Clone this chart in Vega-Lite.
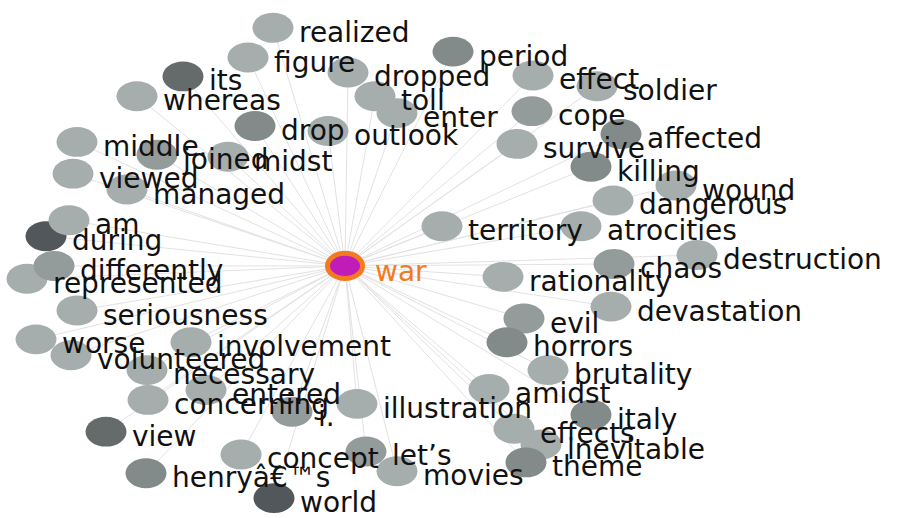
{
  "$schema": "https://vega.github.io/schema/vega-lite/v6.json",
  "width": 903,
  "height": 518,
  "autosize": {"type": "fit", "contains": "padding"},
  "padding": 0,
  "background": "white",
  "config": {"view": {"stroke": null}},
  "data": {
    "values": [
      {"name": "war", "x": 345, "y": 268, "s": 0, "hub": true},
      {"name": "realized", "x": 273, "y": 28, "s": 1, "hub": false},
      {"name": "figure", "x": 248, "y": 58, "s": 1, "hub": false},
      {"name": "its", "x": 183, "y": 77, "s": 4, "hub": false},
      {"name": "whereas", "x": 137, "y": 97, "s": 1, "hub": false},
      {"name": "period", "x": 453, "y": 52, "s": 3, "hub": false},
      {"name": "dropped", "x": 348, "y": 73, "s": 1, "hub": false},
      {"name": "toll", "x": 375, "y": 97, "s": 1, "hub": false},
      {"name": "enter", "x": 397, "y": 114, "s": 1, "hub": false},
      {"name": "drop", "x": 255, "y": 127, "s": 3, "hub": false},
      {"name": "outlook", "x": 328, "y": 132, "s": 1, "hub": false},
      {"name": "effect", "x": 533, "y": 76, "s": 1, "hub": false},
      {"name": "soldier", "x": 597, "y": 87, "s": 1, "hub": false},
      {"name": "cope", "x": 532, "y": 112, "s": 2, "hub": false},
      {"name": "survive", "x": 517, "y": 145, "s": 1, "hub": false},
      {"name": "affected", "x": 621, "y": 135, "s": 3, "hub": false},
      {"name": "killing", "x": 591, "y": 168, "s": 3, "hub": false},
      {"name": "wound", "x": 676, "y": 187, "s": 1, "hub": false},
      {"name": "dangerous", "x": 613, "y": 202, "s": 1, "hub": false},
      {"name": "territory", "x": 442, "y": 228, "s": 1, "hub": false},
      {"name": "atrocities", "x": 581, "y": 228, "s": 1, "hub": false},
      {"name": "destruction", "x": 697, "y": 257, "s": 1, "hub": false},
      {"name": "chaos", "x": 614, "y": 266, "s": 2, "hub": false},
      {"name": "rationality", "x": 503, "y": 279, "s": 1, "hub": false},
      {"name": "devastation", "x": 611, "y": 309, "s": 1, "hub": false},
      {"name": "evil", "x": 524, "y": 321, "s": 2, "hub": false},
      {"name": "horrors", "x": 507, "y": 345, "s": 3, "hub": false},
      {"name": "brutality", "x": 548, "y": 373, "s": 1, "hub": false},
      {"name": "amidst", "x": 489, "y": 392, "s": 1, "hub": false},
      {"name": "italy", "x": 591, "y": 418, "s": 3, "hub": false},
      {"name": "illustration", "x": 357, "y": 407, "s": 1, "hub": false},
      {"name": "effects", "x": 514, "y": 432, "s": 1, "hub": false},
      {"name": "inevitable", "x": 541, "y": 448, "s": 1, "hub": false},
      {"name": "theme", "x": 526, "y": 466, "s": 3, "hub": false},
      {"name": "movies", "x": 397, "y": 475, "s": 1, "hub": false},
      {"name": "let’s", "x": 366, "y": 455, "s": 2, "hub": false},
      {"name": "concept", "x": 241, "y": 458, "s": 1, "hub": false},
      {"name": "henryâ€™s", "x": 146, "y": 477, "s": 3, "hub": false},
      {"name": "world", "x": 274, "y": 502, "s": 5, "hub": false},
      {"name": "view", "x": 106, "y": 435, "s": 4, "hub": false},
      {"name": "concerning", "x": 148, "y": 403, "s": 1, "hub": false},
      {"name": "i.", "x": 292, "y": 415, "s": 2, "hub": false},
      {"name": "entered", "x": 206, "y": 393, "s": 1, "hub": false},
      {"name": "necessary", "x": 147, "y": 373, "s": 1, "hub": false},
      {"name": "involvement", "x": 191, "y": 345, "s": 1, "hub": false},
      {"name": "volunteered", "x": 71, "y": 358, "s": 1, "hub": false},
      {"name": "worse", "x": 36, "y": 342, "s": 1, "hub": false},
      {"name": "seriousness", "x": 77, "y": 313, "s": 1, "hub": false},
      {"name": "represented", "x": 27, "y": 281, "s": 1, "hub": false},
      {"name": "differently", "x": 54, "y": 268, "s": 2, "hub": false},
      {"name": "during", "x": 46, "y": 238, "s": 5, "hub": false},
      {"name": "am", "x": 69, "y": 222, "s": 1, "hub": false},
      {"name": "viewed", "x": 73, "y": 175, "s": 1, "hub": false},
      {"name": "managed", "x": 127, "y": 191, "s": 1, "hub": false},
      {"name": "middle.", "x": 77, "y": 143, "s": 1, "hub": false},
      {"name": "joined", "x": 157, "y": 156, "s": 2, "hub": false},
      {"name": "midst", "x": 228, "y": 158, "s": 1, "hub": false}
    ]
  },
  "encoding": {
    "x": {"field": "x", "type": "quantitative", "scale": {"domain": [0, 903], "nice": false, "zero": false}, "axis": null},
    "y": {"field": "y", "type": "quantitative", "scale": {"domain": [0, 518], "reverse": true, "nice": false, "zero": false}, "axis": null}
  },
  "layer": [
    {
      "transform": [{"filter": "!datum.hub"}],
      "mark": {"type": "rule", "color": "#e2e2e2", "strokeWidth": 1},
      "encoding": {"x2": {"datum": 345}, "y2": {"datum": 268}}
    },
    {
      "transform": [{"filter": "!datum.hub"}],
      "mark": {"type": "point", "filled": true, "opacity": 1, "size": 1681, "shape": "M -1 0 A 1 0.73 0 1 0 1 0 A 1 0.73 0 1 0 -1 0 Z"},
      "encoding": {
        "color": {"field": "s", "type": "ordinal", "legend": null,
          "scale": {"domain": [1, 2, 3, 4, 5], "range": ["#a6adad", "#949b9b", "#838a8a", "#656b6b", "#51575a"]}}
      }
    },
    {
      "transform": [{"filter": "!datum.hub"}],
      "mark": {"type": "text", "align": "left", "baseline": "alphabetic", "dx": 26, "dy": 14, "font": "DejaVu Sans", "fontSize": 28, "color": "#111111"},
      "encoding": {"text": {"field": "name"}}
    },
    {
      "transform": [{"filter": "datum.hub"}],
      "mark": {"type": "point", "filled": true, "opacity": 1, "fill": "#c21cb8", "stroke": "#f47a1f", "strokeWidth": 5, "strokeOpacity": 1, "size": 1225, "shape": "M -1 0 A 1 0.72 0 1 0 1 0 A 1 0.72 0 1 0 -1 0 Z"}
    },
    {
      "transform": [{"filter": "datum.hub"}],
      "mark": {"type": "text", "align": "left", "baseline": "alphabetic", "dx": 30, "dy": 15, "font": "DejaVu Sans", "fontSize": 28, "color": "#f47a1f"},
      "encoding": {"text": {"field": "name"}}
    }
  ]
}
